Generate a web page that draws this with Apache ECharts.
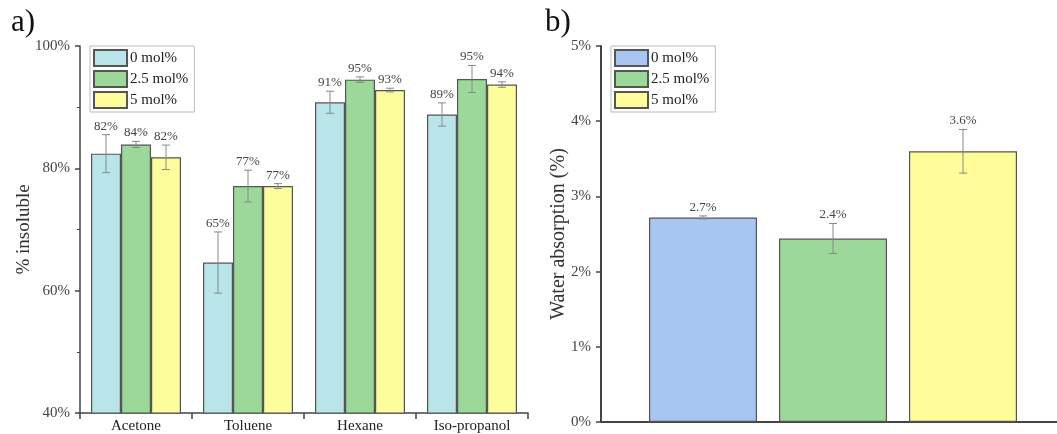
<!DOCTYPE html>
<html><head><meta charset="utf-8">
<script src="https://cdn.jsdelivr.net/npm/echarts@6/dist/echarts.min.js"></script>
<style>
body{margin:0;background:#fff;}
#a{position:absolute;left:0;top:0;width:530px;height:434px;}
#b{position:absolute;left:530px;top:0;width:527px;height:434px;}
</style>
</head><body><div id="a"></div><div id="b"></div>
<script>
// ---- data ----
const solvents = ['Acetone', 'Toluene', 'Hexane', 'Iso-propanol'];
const groups = ['0 mol%', '2.5 mol%', '5 mol%'];
const insol0 = [82.4, 64.6, 90.8, 88.8];
const insol25 = [83.9, 77.1, 94.5, 94.6];
const insol5 = [81.8, 77.1, 92.8, 93.7];
const insolErr0 = [3.1, 5.0, 1.8, 1.9];
const insolErr25 = [0.5, 2.6, 0.45, 2.2];
const insolErr5 = [2.0, 0.4, 0.3, 0.45];
const waterCat = ['Water absorption'];
const waterAbs = [2.72, 2.44, 3.60];
const waterErr = [0.02, 0.20, 0.29];

// ---- styles ----
const FONT = '"Liberation Serif", "Times New Roman", serif';
const colorsA = ['#b8e4ea', '#9dd89b', '#fdfd9c'];
const colorsB = ['#a7c6f2', '#9dd89b', '#fffd9a'];
const BORDER = '#555';
const AXIS = '#444';

function errSeries(data, errs, offsetPx, fmt) {
  return {
    type: 'custom',
    z: 10,
    silent: true,
    data: data.map((v, i) => [i, v, errs[i]]),
    encode: { x: 0, y: 1 },
    renderItem: function (params, api) {
      const c = api.value(0), v = api.value(1), e = api.value(2);
      const hi = api.coord([c, v + e]);
      const lo = api.coord([c, v - e]);
      const x = hi[0] + offsetPx;
      const cap = 4;
      const st = { stroke: '#888', lineWidth: 1 };
      return {
        type: 'group',
        children: [
          { type: 'line', shape: { x1: x, y1: hi[1], x2: x, y2: lo[1] }, style: st },
          { type: 'line', shape: { x1: x - cap, y1: hi[1], x2: x + cap, y2: hi[1] }, style: st },
          { type: 'line', shape: { x1: x - cap, y1: lo[1], x2: x + cap, y2: lo[1] }, style: st },
          { type: 'text', x: x, y: hi[1] - 2,
            style: { text: fmt(v), textAlign: 'center', textVerticalAlign: 'bottom',
                     font: '13px ' + FONT, fill: '#444' } }
        ]
      };
    }
  };
}

function legendCfg(left) {
  return {
    left: left, top: 46, orient: 'vertical',
    data: groups,
    icon: 'rect',
    itemWidth: 33, itemHeight: 16, itemGap: 3,
    padding: [3, 6, 3, 3],
    borderColor: '#bbb', borderWidth: 1,
    textStyle: { fontFamily: FONT, fontSize: 15, color: '#222', padding: [0, 0, 0, -2] },
    selectedMode: false
  };
}

// ---- chart a ----
const chartA = echarts.init(document.getElementById('a'));
const insolVals = [insol0, insol25, insol5];
const insolErrs = [insolErr0, insolErr25, insolErr5];
const barWA = 30;
const seriesA = [];
groups.forEach((g, i) => {
  seriesA.push({
    type: 'bar', name: g, data: insolVals[i],
    barWidth: barWA, barGap: '0%',
    itemStyle: { color: colorsA[i], borderColor: BORDER, borderWidth: 1.2 }
  });
});
groups.forEach((g, i) => {
  seriesA.push(errSeries(insolVals[i], insolErrs[i], (i - 1) * barWA, v => Math.round(v) + '%'));
});
chartA.setOption({
  animation: false,
  title: { text: 'a)', left: 6, top: 2, textStyle: { fontFamily: FONT, fontSize: 31, fontWeight: 'normal', color: '#111' } },
  legend: legendCfg(90),
  grid: { left: 80, top: 46, width: 448, height: 367, outerBoundsMode: 'none' },
  xAxis: {
    type: 'category', data: solvents,
    axisLine: { lineStyle: { color: AXIS, width: 1.5 } },
    axisTick: { show: true, length: 6, lineStyle: { color: AXIS, width: 1.5 } },
    axisLabel: { fontFamily: FONT, fontSize: 15, color: '#222', margin: 6 }
  },
  yAxis: {
    type: 'value', min: 40, max: 100, interval: 20,
    name: '% insoluble', nameLocation: 'middle', nameGap: 46, nameMoveOverlap: false,
    nameTextStyle: { fontFamily: FONT, fontSize: 19, color: '#333' },
    axisLine: { show: true, lineStyle: { color: AXIS, width: 1.5 } },
    axisTick: { show: true, length: 5, lineStyle: { color: AXIS, width: 1.5 } },
    minorTick: { show: true, splitNumber: 2, length: 3, lineStyle: { color: AXIS } },
    splitLine: { show: false },
    axisLabel: { formatter: '{value}%', fontFamily: FONT, fontSize: 15, color: '#444', margin: 10 }
  },
  series: seriesA
});

// ---- chart b ----
const chartB = echarts.init(document.getElementById('b'));
const barWB = 108, gapB = 22;
const seriesB = [];
groups.forEach((g, i) => {
  seriesB.push({
    type: 'bar', name: g, data: [waterAbs[i]],
    barWidth: barWB, barGap: (gapB / barWB * 100).toFixed(2) + '%',
    itemStyle: { color: colorsB[i], borderColor: BORDER, borderWidth: 1.2 }
  });
});
groups.forEach((g, i) => {
  seriesB.push(errSeries([waterAbs[i]], [waterErr[i]], (i - 1) * (barWB + gapB), v => v.toFixed(1) + '%'));
});
chartB.setOption({
  animation: false,
  title: { text: 'b)', left: 10, top: 2, textStyle: { fontFamily: FONT, fontSize: 31, fontWeight: 'normal', color: '#111' } },
  legend: legendCfg(81),
  grid: { left: 71, top: 46, width: 464, height: 376, outerBoundsMode: 'none' },
  xAxis: {
    type: 'category', data: waterCat,
    axisLine: { lineStyle: { color: AXIS, width: 2 } },
    axisTick: { show: false },
    axisLabel: { show: false }
  },
  yAxis: {
    type: 'value', min: 0, max: 5, interval: 1,
    name: 'Water absorption (%)', nameLocation: 'middle', nameGap: 32, nameMoveOverlap: false,
    nameTextStyle: { fontFamily: FONT, fontSize: 20, color: '#333' },
    axisLine: { show: true, lineStyle: { color: AXIS, width: 2 } },
    axisTick: { show: true, length: 5, lineStyle: { color: AXIS, width: 1.5 } },
    splitLine: { show: false },
    axisLabel: { formatter: '{value}%', fontFamily: FONT, fontSize: 15, color: '#444', margin: 10 }
  },
  series: seriesB
});
</script>
</body></html>
